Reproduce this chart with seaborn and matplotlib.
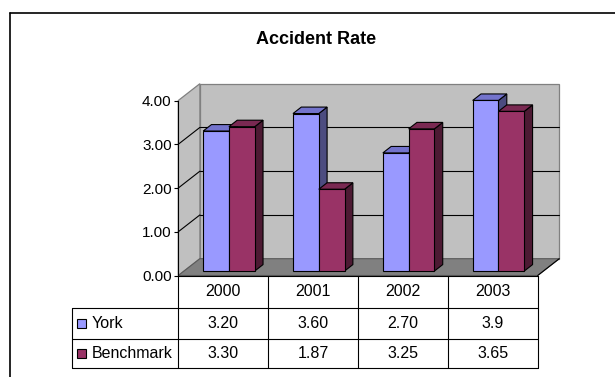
import matplotlib
matplotlib.use("Agg")
import matplotlib.pyplot as plt
from matplotlib.patches import Polygon, Rectangle
from matplotlib.lines import Line2D
import pandas as pd
import seaborn as sns

# ---- data -------------------------------------------------------------
years = ["2000", "2001", "2002", "2003"]
series_names = ["York", "Benchmark"]
york_labels = ["3.20", "3.60", "2.70", "3.9"]
benchmark_labels = ["3.30", "1.87", "3.25", "3.65"]
york = [float(s) for s in york_labels]
benchmark = [float(s) for s in benchmark_labels]
y_ticks = [0, 1, 2, 3, 4]
title = "Accident Rate"

# ---- style ------------------------------------------------------------
face_colors = ["#9999FF", "#993366"]
top_colors = ["#7373CC", "#7A2952"]
side_colors = ["#4C4C80", "#4D1A33"]
wall_color = "#C0C0C0"
floor_color = "#808080"

sns.set_theme(style="white")
plt.rcParams["font.family"] = ["Liberation Sans", "DejaVu Sans"]

W, H = 615, 377
fig = plt.figure(figsize=(W / 100, H / 100), dpi=100)
fig.patch.set_facecolor("white")

# front plane of the plot box (pixels)
x0_px, x1_px = 178.3, 537.7
y0_px, y4_px = 275.5, 100.5
ax = fig.add_axes([x0_px / W, 1 - y0_px / H,
                   (x1_px - x0_px) / W, (y0_px - y4_px) / H])
ax.patch.set_visible(False)

df = pd.DataFrame({
    "year": years * 2,
    "rate": york + benchmark,
    "series": [series_names[0]] * len(years) + [series_names[1]] * len(years),
})

sns.barplot(data=df, x="year", y="rate", hue="series", order=years,
            hue_order=series_names, palette=face_colors, width=0.574,
            saturation=1, edgecolor="black", linewidth=0.8,
            errorbar=None, legend=False, ax=ax)
bars = sorted(list(ax.patches), key=lambda p: p.get_x())

ax.set_xlim(-0.5, 3.5)
ax.set_ylim(0, 4)

# oblique depth of the box and placement of the columns inside it
DX, DY = 0.240, 0.384
F0, DEPTH = 0.265, 0.385
sx, sy = F0 * DX, F0 * DY
dX, dY = DEPTH * DX, DEPTH * DY

# walls and floor
xl, xr = -0.5, 3.5
back = Polygon([(xl + DX, DY), (xr + DX, DY), (xr + DX, 4 + DY), (xl + DX, 4 + DY)],
               closed=True, facecolor=wall_color, edgecolor="#808080",
               linewidth=0.9, zorder=0.2, clip_on=False)
side = Polygon([(xl, 0), (xl + DX, DY), (xl + DX, 4 + DY), (xl, 4)],
               closed=True, facecolor=wall_color, edgecolor="#808080",
               linewidth=0.9, zorder=0.2, clip_on=False)
floor = Polygon([(xl, 0), (xr, 0), (xr + DX, DY), (xl + DX, DY)],
                closed=True, facecolor=floor_color, edgecolor="#5a5a5a",
                linewidth=0.8, zorder=0.3, clip_on=False)
for p in (back, side, floor):
    ax.add_patch(p)
ax.plot([xr, xr + DX], [0, DY], color="black", lw=0.8, zorder=0.4, clip_on=False)

# gridlines on back and side walls
for k in y_ticks[1:-1]:
    ax.plot([xl + DX, xr + DX], [k + DY, k + DY], color="black", lw=0.8,
            zorder=0.5, clip_on=False)
    ax.plot([xl, xl + DX], [k, k + DY], color="black", lw=0.8,
            zorder=0.5, clip_on=False)

# turn each flat bar into a box: shifted front face, top and side
for j, bar in enumerate(bars):
    s = j % 2
    x, w, h = bar.get_x(), bar.get_width(), bar.get_height()
    z = 2 + 3 * j
    side_poly = Polygon([(x + w + sx, sy), (x + w + sx + dX, sy + dY),
                         (x + w + sx + dX, h + sy + dY), (x + w + sx, h + sy)],
                        closed=True, facecolor=side_colors[s], edgecolor="black",
                        linewidth=0.8, zorder=z, clip_on=False)
    top_poly = Polygon([(x + sx, h + sy), (x + w + sx, h + sy),
                        (x + w + sx + dX, h + sy + dY), (x + sx + dX, h + sy + dY)],
                       closed=True, facecolor=top_colors[s], edgecolor="black",
                       linewidth=0.8, zorder=z + 1, clip_on=False)
    ax.add_patch(side_poly)
    ax.add_patch(top_poly)
    bar.set_xy((x + sx, sy))
    bar.set_zorder(z + 2)
    bar.set_clip_on(False)

# axes
ax.set_xlabel("")
ax.set_ylabel("")
ax.set_xticks([])
ax.set_yticks(y_ticks)
ax.set_yticklabels([f"{v:.2f}" for v in y_ticks])
ax.tick_params(axis="y", left=True, direction="out", length=2.9, width=0.8,
               color="black", pad=1.9, labelsize=11, labelcolor="black")
for name in ("top", "right"):
    ax.spines[name].set_visible(False)
for name in ("left", "bottom"):
    ax.spines[name].set_visible(True)
    ax.spines[name].set_color("black")
    ax.spines[name].set_linewidth(0.8)
    ax.spines[name].set_zorder(50)

# data table below the plot
tl = -1.68
r_head, r_york, r_bench = -0.736, -1.458, -2.121
lk = dict(color="black", lw=0.8, zorder=50, clip_on=False)
for yy in (r_head, r_york, r_bench):
    ax.plot([tl, xr], [yy, yy], **lk)
for xx in (-0.5, 0.5, 1.5, 2.5, 3.5):
    ax.plot([xx, xx], [0, r_bench], **lk)
ax.plot([tl, tl], [r_head, r_bench], **lk)

table_fs = 11.5
for i, yr in enumerate(years):
    ax.text(i, r_head / 2, yr, ha="center", va="center", fontsize=table_fs,
            color="black", clip_on=False)

rows = [(york_labels, (r_head + r_york) / 2), (benchmark_labels, (r_york + r_bench) / 2)]
key_w = 9.3 / 89.85
key_h = 9.3 / 43.75
for s, (labels, yc) in enumerate(rows):
    for i, lab in enumerate(labels):
        ax.text(i, yc, lab, ha="center", va="center", fontsize=table_fs,
                color="black", clip_on=False)
    ax.add_patch(Rectangle((-1.631, yc - key_h / 2), key_w, key_h,
                           facecolor=face_colors[s], edgecolor="black",
                           linewidth=0.8, zorder=50, clip_on=False))
    ax.text(-1.464, yc, series_names[s], ha="left", va="center", fontsize=table_fs,
            color="black", clip_on=False)

# title and chart-area frame
fig.text(316.5 / W, 1 - 40 / H, title, ha="center", va="center",
         fontsize=13, fontweight="bold", color="black")
fig.add_artist(Line2D([10 / W, 10 / W], [0, 1 - 13 / H], color="black",
                      lw=1.2, transform=fig.transFigure))
fig.add_artist(Line2D([10 / W, 1], [1 - 13 / H, 1 - 13 / H], color="black",
                      lw=1.2, transform=fig.transFigure))

fig.savefig("out.png", dpi=100, facecolor="white")
